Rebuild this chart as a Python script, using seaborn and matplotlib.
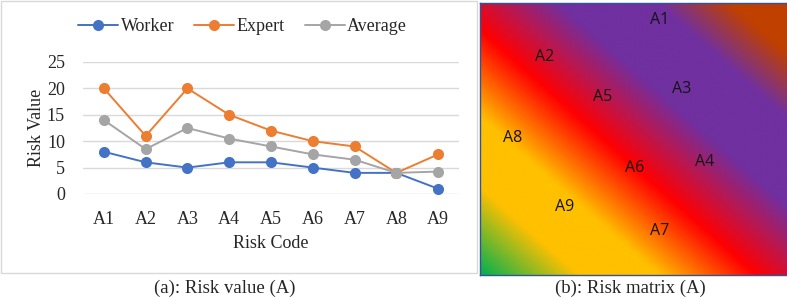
import numpy as np
import pandas as pd
import seaborn as sns
import matplotlib.pyplot as plt
from matplotlib.colors import LinearSegmentedColormap
from matplotlib.patches import Rectangle

# data
codes = ['A1', 'A2', 'A3', 'A4', 'A5', 'A6', 'A7', 'A8', 'A9']
worker = [8, 6, 5, 6, 6, 5, 4, 4, 1]
expert = [20, 11, 20, 15, 12, 10, 9, 4, 7.5]
average = [14, 8.5, 12.5, 10.5, 9, 7.5, 6.5, 4, 4.25]

# label positions in the risk matrix (fraction of width, fraction of height from top)
matrix_x = [0.585, 0.212, 0.658, 0.732, 0.399, 0.505, 0.585, 0.105, 0.277]
matrix_y = [0.061, 0.199, 0.317, 0.583, 0.346, 0.607, 0.840, 0.497, 0.751]

sns.set_theme(style='white')
plt.rcParams['font.family'] = ['Liberation Serif', 'DejaVu Serif']

df = pd.DataFrame({'code': codes * 3,
                   'value': worker + expert + average,
                   'series': ['Worker'] * 9 + ['Expert'] * 9 + ['Average'] * 9})
pal = {'Worker': '#4472C4', 'Expert': '#ED7D31', 'Average': '#A5A5A5'}

fig = plt.figure(figsize=(7.87, 2.98), dpi=100)

# frame around the left chart
fig.patches.append(Rectangle((1 / 787, 1 - 273 / 298), 476 / 787, 272 / 298,
                             transform=fig.transFigure, fill=False,
                             edgecolor='#D9D9D9', linewidth=1))

ax = fig.add_axes([83 / 787, 1 - 194 / 298, 376 / 787, 132 / 298])
sns.lineplot(data=df, x='code', y='value', hue='series', palette=pal,
             marker='o', markersize=8, markeredgewidth=0, linewidth=1.4,
             sort=False, ax=ax, legend=True)
ax.set_xlim(-0.5, 8.5)
ax.set_ylim(0, 25)
ax.set_yticks([0, 5, 10, 15, 20, 25])
ax.yaxis.grid(True, color='#D9D9D9', linewidth=1)
ax.set_axisbelow(True)
for s in ax.spines.values():
    s.set_visible(False)
ax.tick_params(axis='both', length=0, labelsize=13, colors='#262626')
ax.tick_params(axis='x', pad=12)
ax.tick_params(axis='y', pad=13)
ax.set_xlabel('Risk Code', fontsize=13, color='#262626', labelpad=5)
ax.set_ylabel('Risk Value', fontsize=13, color='#262626', labelpad=1)
ax.legend(loc='center', bbox_to_anchor=(0.425, 1.27), ncol=3, frameon=False,
          fontsize=13, handlelength=2.2, columnspacing=1.1, handletextpad=0.15,
          labelcolor='#262626')

# risk matrix gradient
ax2 = fig.add_axes([480 / 787, 1 - 275 / 298, 307 / 787, 272 / 298])
cmap = LinearSegmentedColormap.from_list('risk', [
    (0.0, '#00B050'), (0.16, '#FFC000'), (0.29, '#FFC000'), (0.45, '#FF0000'),
    (0.63, '#7030A0'), (0.79, '#7030A0'), (0.91, '#C04000'), (1.0, '#C04000')])
gx, gy = np.meshgrid(np.linspace(0, 1, 400), np.linspace(0, 1, 400))
grad = (gx - gy + 1) / 2
ax2.imshow(grad, cmap=cmap, extent=(0, 1, 1, 0), aspect='auto', vmin=0, vmax=1)
ax2.set_xlim(0, 1)
ax2.set_ylim(1, 0)
ax2.set_xticks([])
ax2.set_yticks([])
for s in ax2.spines.values():
    s.set_color('#2F5597')
    s.set_linewidth(1)
for c, x, y in zip(codes, matrix_x, matrix_y):
    ax2.text(x, y, c, ha='center', va='center', fontsize=11.5,
             family=['Open Sans', 'DejaVu Sans'], color='#141414')

fig.text(225 / 787, 1 - 288 / 298, '(a): Risk value (A)', ha='center', va='center',
         fontsize=13.5)
fig.text(630 / 787, 1 - 288 / 298, '(b): Risk matrix (A)', ha='center', va='center',
         fontsize=13.5)

fig.savefig('out.png', dpi=100)
